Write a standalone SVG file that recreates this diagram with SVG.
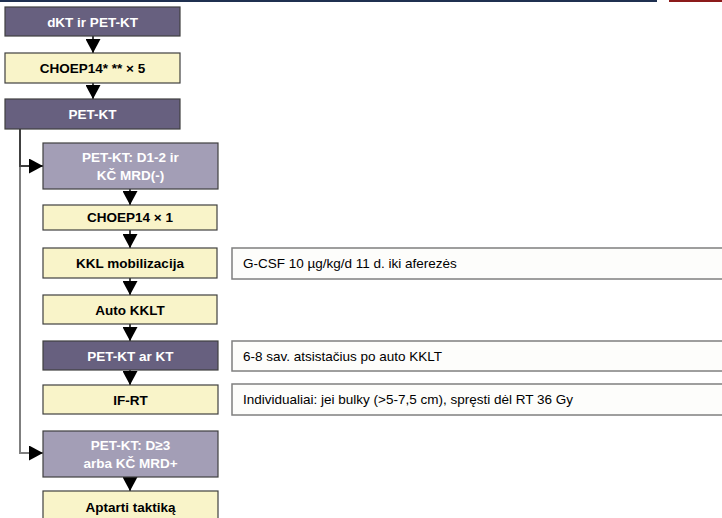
<svg xmlns="http://www.w3.org/2000/svg" width="722" height="518" viewBox="0 0 722 518">
  <style>
    .dark { fill: #67607f; stroke: #404040; stroke-width: 1.2; }
    .lite { fill: #a39eb6; stroke: #404040; stroke-width: 1.2; }
    .yell { fill: #f9f4c9; stroke: #404040; stroke-width: 1.2; }
    .note { fill: #fdfdfb; stroke: #7f7f7f; stroke-width: 1.5; }
    .tw { font-family: "Liberation Sans", Arial, sans-serif; font-size: 13.5px; font-weight: bold; fill: #ffffff; text-anchor: middle; }
    .tb { font-family: "Liberation Sans", Arial, sans-serif; font-size: 13.5px; font-weight: bold; fill: #000000; text-anchor: middle; }
    .tn { font-family: "Liberation Sans", Arial, sans-serif; font-size: 13.5px; fill: #000000; }
    .conn { fill: none; stroke: #000000; stroke-width: 1.5; }
    .side { fill: none; stroke-width: 2; }
  </style>
  <defs>
    <marker id="arrow" markerUnits="userSpaceOnUse" markerWidth="15" markerHeight="15" viewBox="0 0 15 15" refX="14" refY="7.5" orient="auto">
      <path d="M0,0 L14,7.5 L0,15 Z" fill="#000000"/>
    </marker>
  </defs>

  <!-- header rule -->
  <rect x="0" y="0" width="657" height="2" fill="#1f3050"/>
  <rect x="669" y="0" width="53" height="2" fill="#8b1a1a"/>

  <g id="connectors">
    <line class="conn" x1="93" y1="36" x2="93" y2="53" marker-end="url(#arrow)"/>
    <line class="conn" x1="93" y1="83" x2="93" y2="99" marker-end="url(#arrow)"/>
    <line class="conn" x1="130" y1="189" x2="130" y2="205" marker-end="url(#arrow)"/>
    <line class="conn" x1="130" y1="230" x2="130" y2="248" marker-end="url(#arrow)"/>
    <line class="conn" x1="130" y1="278" x2="130" y2="295" marker-end="url(#arrow)"/>
    <line class="conn" x1="130" y1="324" x2="130" y2="341" marker-end="url(#arrow)"/>
    <line class="conn" x1="130" y1="370" x2="130" y2="385" marker-end="url(#arrow)"/>
    <line class="conn" x1="130" y1="477" x2="130" y2="491" marker-end="url(#arrow)"/>
    <path class="side" stroke="#7f7f7f" d="M20,166 V453 H43" marker-end="url(#arrow)"/>
    <path class="side" stroke="#404040" d="M20,129 V166 H43" marker-end="url(#arrow)"/>
  </g>

  <g id="n1"><rect class="dark" x="5" y="7" width="175" height="29"/><text class="tw" x="92.5" y="26.5">dKT ir PET-KT</text></g>
  <g id="n2"><rect class="yell" x="5" y="53" width="175" height="30"/><text class="tb" x="92.5" y="73">CHOEP14* ** × 5</text></g>
  <g id="n3"><rect class="dark" x="5" y="99" width="175" height="30"/><text class="tw" x="92.5" y="119">PET-KT</text></g>
  <g id="n4"><rect class="lite" x="43" y="143" width="175" height="46"/><text class="tw" x="130.5" y="162">PET-KT: D1-2 ir</text><text class="tw" x="130.5" y="180">KČ MRD(-)</text></g>
  <g id="n5"><rect class="yell" x="43" y="205" width="174" height="25"/><text class="tb" x="130" y="222">CHOEP14 × 1</text></g>
  <g id="n6"><rect class="yell" x="43" y="248" width="174" height="30"/><text class="tb" x="130" y="268">KKL mobilizacija</text></g>
  <g id="n7"><rect class="yell" x="43" y="295" width="174" height="29"/><text class="tb" x="130" y="314.5">Auto KKLT</text></g>
  <g id="n8"><rect class="dark" x="43" y="341" width="175" height="29"/><text class="tw" x="130.5" y="360.5">PET-KT ar KT</text></g>
  <g id="n9"><rect class="yell" x="43" y="385" width="175" height="29"/><text class="tb" x="130.5" y="404.5">IF-RT</text></g>
  <g id="n10"><rect class="lite" x="43" y="431" width="175" height="46"/><text class="tw" x="130.5" y="450">PET-KT: D≥3</text><text class="tw" x="130.5" y="468">arba KČ MRD+</text></g>
  <g id="n11"><rect class="yell" x="43" y="491" width="175" height="35"/><text class="tb" x="130.5" y="512">Aptarti taktiką</text></g>

  <g id="note1"><rect class="note" x="232" y="248" width="495" height="31"/><text class="tn" x="243" y="268">G-CSF 10 µg/kg/d 11 d. iki aferezės</text></g>
  <g id="note2"><rect class="note" x="232" y="341" width="495" height="30"/><text class="tn" x="243" y="361">6-8 sav. atsistačius po auto KKLT</text></g>
  <g id="note3"><rect class="note" x="232" y="384" width="495" height="31"/><text class="tn" x="243" y="404">Individualiai: jei bulky (&gt;5-7,5 cm), spręsti dėl RT 36 Gy</text></g>
</svg>
